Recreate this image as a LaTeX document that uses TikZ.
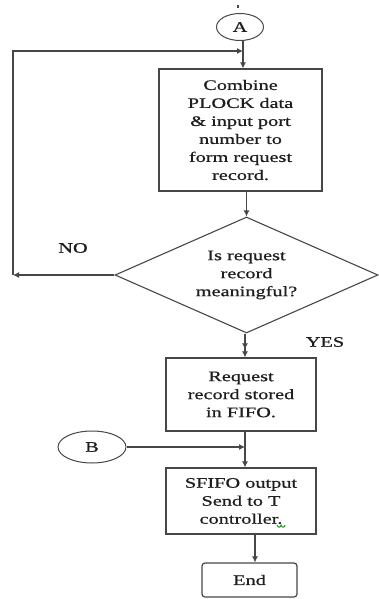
\documentclass[tikz,border=0pt]{standalone}
\usepackage{fontspec}
\setmainfont{Liberation Serif}[FakeStretch=1.4, FakeBold=0.7]
\usetikzlibrary{shapes.geometric,arrows.meta}
\definecolor{edge}{HTML}{474747}
\definecolor{ink}{HTML}{1E1E1E}
\begin{document}
\begin{tikzpicture}[x=1pt,y=1pt,
  every node/.style={text=ink, font=\fontsize{14.5}{18}\selectfont, align=center, inner sep=0pt},
  flowbox/.style={draw=edge, line width=1.2pt, rectangle},
  term/.style={draw=edge, line width=1.2pt, rectangle, rounded corners=3pt},
  conn/.style={draw=edge, line width=1pt, ellipse},
  test/.style={draw=edge, line width=1.1pt, diamond, aspect=2.27},
  flow/.style={draw=edge, line width=1.1pt, -{Latex[length=6pt,width=6pt]}},
  plain/.style={draw=edge, line width=1.1pt}]
\useasboundingbox (0,0) rectangle (378,-599);

% nodes
\node[conn, minimum width=47pt, minimum height=27pt] (A) at (240,-27) {A};
\node[flowbox, minimum width=163pt, minimum height=122pt] (b1) at (240.5,-130)
  {Combine\\PLOCK data\\\& input port\\number to\\form request\\record.};
\node[test, minimum width=263pt, minimum height=116pt] (dia) at (246.5,-275)
  {Is request\\record\\meaningful?};
\node[flowbox, minimum width=150pt, minimum height=73pt] (b2) at (241,-394.5)
  {Request\\record stored\\in FIFO.};
\node[conn, minimum width=68pt, minimum height=32pt] (B) at (92,-447) {B};
\node[flowbox, minimum width=150pt, minimum height=66pt] (b3) at (241,-501)
  {SFIFO output\\Send to T\\controller.};
\node[term, minimum width=95pt, minimum height=34pt] (end) at (249.5,-580) {End};

\node (no) at (73,-248) {NO};
\node (yes) at (325,-342) {YES};

% junction points
\coordinate (j1) at (243,-51);
\coordinate (c1) at (13,-275);
\coordinate (c2) at (13,-51);
\coordinate (j2) at (245,-447);
\coordinate (ex) at (255,-540);
\coordinate (top) at (238,-5);

% connectors
\draw[plain] (top) -- ++(0,-3);
\draw[plain] (A.south -| j1) -- (j1);
\draw[flow] (j1) -- (j1 |- b1.north);
\draw[flow] (b1.south -| dia.north) -- (dia.north);
\draw[flow] (dia.west) -- (c1);
\draw[flow] (c1) -- (c2) -- (j1);
\draw[draw=edge, line width=1.1pt, -{Latex[length=6pt,width=6pt,sep=2pt] Latex[length=6pt,width=6pt]}]
  (dia.south -| j2) -- (j2 |- b2.north);
\draw[flow] (B.east) -- (j2);
\draw[flow] (b2.south -| j2) -- (j2 |- b3.north);
\draw[flow] (b3.south -| ex) -- (ex |- end.north);

% small green proofing mark after "controller."
\draw[green!60!black, line width=0.9pt] (277,-525) .. controls (278.5,-528) and (280,-528) .. (281,-525)
  .. controls (282.5,-528) and (284,-528) .. (285,-525);
\end{tikzpicture}
\end{document}
